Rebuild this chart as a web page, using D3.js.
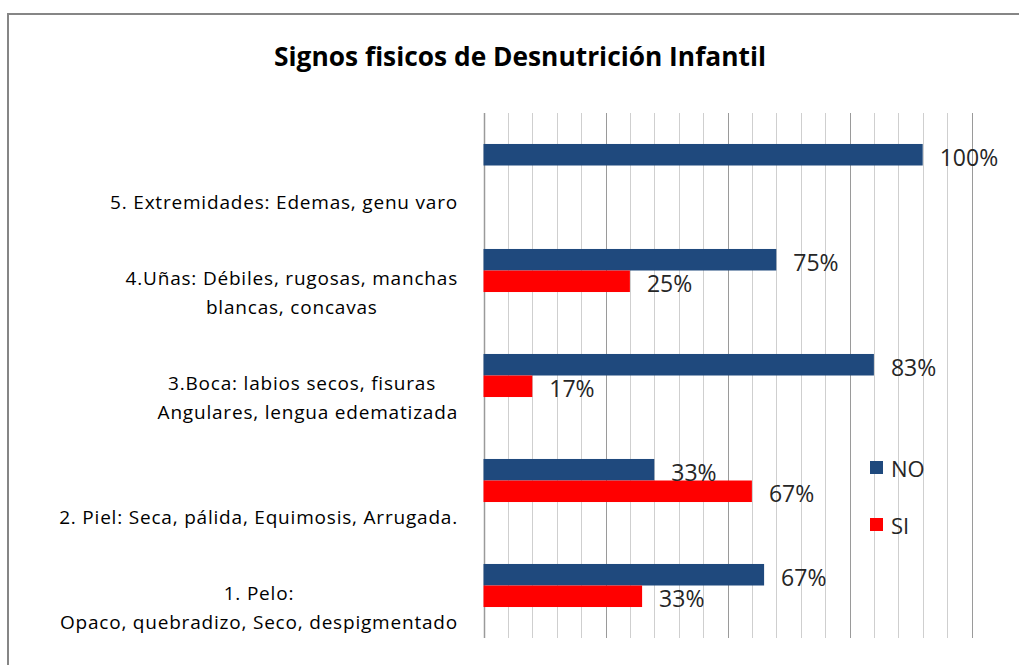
<!DOCTYPE html>
<html lang="es">
<head>
    <meta charset="UTF-8">
    <script src="https://cdn.jsdelivr.net/npm/d3@7"></script>
    <title>Signos fisicos de Desnutrición Infantil</title>
    <style>
        body { margin: 0; background: #fff; }
        text { font-family: "Open Sans", sans-serif; }
    </style>
</head>
<body>
<script>
    // categorias de abajo hacia arriba
    const categories = ["1", "2", "3", "4", "5"];
    const categoryLines = [
        ["1. Pelo:", "Opaco, quebradizo, Seco, despigmentado"],
        ["2. Piel: Seca, pálida, Equimosis, Arrugada."],
        ["3.Boca: labios secos, fisuras\u00a0\u00a0", "Angulares, lengua edematizada"],
        ["4.Uñas: Débiles, rugosas, manchas", "blancas, concavas"],
        ["5. Extremidades: Edemas, genu varo"]
    ];
    const seriesNames = ["NO", "SI"];
    // largo de las barras tal como se ven, en pasos de la rejilla (100% = 18 pasos)
    const noValues = [11.5, 7, 16, 12, 18];
    const siValues = [6.5, 11, 2, 6, 0];
    // etiquetas de datos que muestra el grafico
    const noLabels = ["67%", "33%", "83%", "75%", "100%"];
    const siLabels = ["33%", "67%", "17%", "25%", ""];
    const gridSteps = d3.range(0, 21);

    const colors = {NO: "#1f497d", SI: "#ff0000"};

    const svg = d3.select("body").append("svg").attr("width", 1019).attr("height", 665);

    // marco
    svg.append("rect")
        .attr("x", 8).attr("y", 14)
        .attr("width", 1100).attr("height", 700)
        .attr("fill", "#fff")
        .attr("stroke", "#868686")
        .attr("stroke-width", 2);

    svg.append("text")
        .attr("x", 520).attr("y", 66)
        .attr("text-anchor", "middle")
        .attr("font-size", 27)
        .attr("font-weight", "bold")
        .attr("fill", "#000")
        .attr("textLength", 492)
        .attr("lengthAdjust", "spacingAndGlyphs")
        .text("Signos fisicos de Desnutrición Infantil");

    const x = d3.scaleLinear().domain([0, 20]).range([483.5, 971.5]);
    const y = d3.scaleBand().domain(categories).range([638, 113])
        .paddingInner(0.59).paddingOuter(0.295);
    const ySub = d3.scaleBand().domain(seriesNames).range([0, y.bandwidth()]);

    // rejilla vertical
    svg.append("g").selectAll("line")
        .data(gridSteps)
        .join("line")
        .attr("x1", d => Math.round(x(d)) + 0.5)
        .attr("x2", d => Math.round(x(d)) + 0.5)
        .attr("y1", 113).attr("y2", 638)
        .attr("stroke", d => d % 5 === 0 ? "#9a9a9a" : "#cfcfcf")
        .attr("stroke-width", d => d === 0 ? 1.5 : 1);

    const rows = categories.map((c, i) => ({
        cat: c,
        bars: [
            {s: "NO", v: noValues[i], label: noLabels[i]},
            {s: "SI", v: siValues[i], label: siLabels[i]}
        ]
    }));

    const groups = svg.append("g").selectAll("g")
        .data(rows)
        .join("g")
        .attr("transform", d => "translate(0," + y(d.cat) + ")");

    groups.selectAll("rect")
        .data(d => d.bars.filter(b => b.v > 0))
        .join("rect")
        .attr("x", x(0))
        .attr("y", d => ySub(d.s))
        .attr("width", d => x(d.v) - x(0))
        .attr("height", ySub.bandwidth())
        .attr("fill", d => colors[d.s]);

    groups.selectAll("text")
        .data(d => d.bars.filter(b => b.label))
        .join("text")
        .attr("x", d => x(d.v) + 17)
        .attr("y", d => ySub(d.s) + ySub.bandwidth() / 2 + 2)
        .attr("dominant-baseline", "central")
        .attr("font-size", 23)
        .attr("fill", "#262626")
        .text(d => d.label);

    // etiquetas de categoria: bloque alineado a la derecha, lineas centradas
    const labelRight = 458;
    const lineH = 28.5;
    categories.forEach((c, i) => {
        const lines = categoryLines[i];
        const g = svg.append("g");
        const texts = lines.map((t, j) => g.append("text")
            .attr("y", y(c) + y.bandwidth() / 2 + 36 - (lines.length - 1 - j) * lineH)
            .attr("dominant-baseline", "central")
            .attr("text-anchor", "middle")
            .attr("font-size", 19)
            .attr("letter-spacing", 0.8)
            .attr("fill", "#000")
            .text(t));
        const w = d3.max(texts, t => t.node().getComputedTextLength());
        texts.forEach(t => t.attr("x", labelRight - w / 2));
    });

    // leyenda
    const legend = svg.append("g").selectAll("g")
        .data(seriesNames)
        .join("g")
        .attr("transform", (d, i) => "translate(870," + (461 + i * 57) + ")");
    legend.append("rect")
        .attr("width", 13).attr("height", 13)
        .attr("fill", d => colors[d]);
    legend.append("text")
        .attr("x", 21).attr("y", 7)
        .attr("dominant-baseline", "central")
        .attr("font-size", 22)
        .attr("fill", "#262626")
        .text(d => d);
</script>
</body>
</html>
